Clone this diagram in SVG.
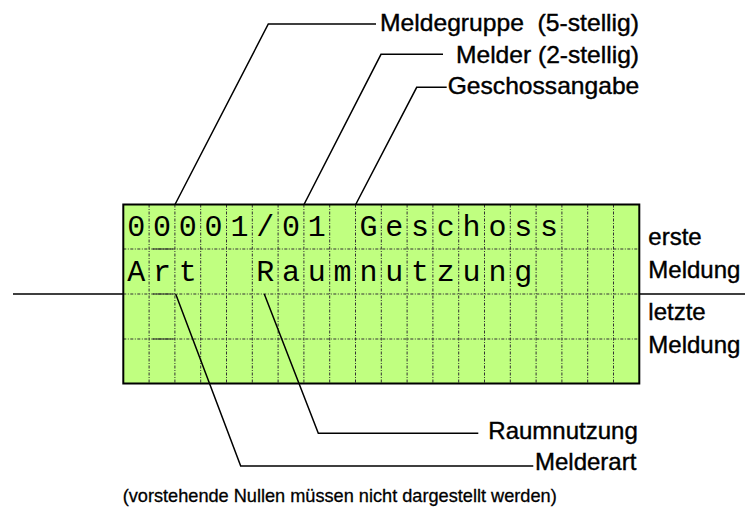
<svg xmlns="http://www.w3.org/2000/svg" width="745" height="508" viewBox="0 0 745 508">
<style>
.lbl{font-family:"Liberation Sans",Arial,sans-serif;font-size:24px;fill:#000;stroke:#000;stroke-width:0.4}
.note{font-family:"Liberation Sans",Arial,sans-serif;font-size:18.5px;fill:#000;stroke:#000;stroke-width:0.3}
.lcd{font-family:"Liberation Mono","DejaVu Sans Mono",monospace;font-size:30px;fill:#000;text-anchor:middle}
.ln{fill:none;stroke:#000;stroke-width:1.5}
.cell{fill:none;stroke:#333;stroke-width:1;stroke-dasharray:3 1.5 1 1.5}
</style>
<rect width="745" height="508" fill="#fff"/>
<g id="display">
<rect x="123.3" y="204.5" width="516" height="179" fill="#c0ff80"/>
<path class="cell" d="M149.1 204.5V383.5M174.9 204.5V383.5M200.7 204.5V383.5M226.5 204.5V383.5M252.3 204.5V383.5M278.1 204.5V383.5M303.9 204.5V383.5M329.7 204.5V383.5M355.5 204.5V383.5M381.3 204.5V383.5M407.1 204.5V383.5M432.9 204.5V383.5M458.7 204.5V383.5M484.5 204.5V383.5M510.3 204.5V383.5M536.1 204.5V383.5M561.9 204.5V383.5M587.7 204.5V383.5M613.5 204.5V383.5M123.3 249H639.3M123.3 294H639.3M123.3 339H639.3"/>
<path d="M153 249H173M153 294H173M153 339H173" stroke="#222" stroke-width="1.2"/>
<rect x="123.3" y="204.5" width="516" height="179" fill="none" stroke="#000" stroke-width="2"/>
<text class="lcd" x="136.2 162 187.8 213.6 239.4 265.2 291 316.8 368.4 394.2 420 445.8 471.6 497.4 523.2 549" y="236">00001/01Geschoss</text>
<text class="lcd" x="136.2 162 187.8 265.2 291 316.8 342.6 368.4 394.2 420 445.8 471.6 497.4 523.2" y="281">ArtRaumnutzung</text>
</g>
<g id="connectors">
<path class="ln" d="M13 294H123.3M639.3 294H745"/>
<path class="ln" d="M175 204.5L268.3 24H376"/>
<path class="ln" d="M304 204.5L381 54.3H443"/>
<path class="ln" d="M355.7 204.5L416.7 87.3H446.7"/>
<path class="ln" d="M264.3 294L318.3 433.3H478.3"/>
<path class="ln" d="M175.7 294L240.7 466H533.3"/>
</g>
<g id="label-meldegruppe"><text class="lbl" x="380" y="31" textLength="259" lengthAdjust="spacingAndGlyphs" xml:space="preserve">Meldegruppe  (5-stellig)</text></g>
<g id="label-melder"><text class="lbl" x="456" y="63.3" textLength="183" lengthAdjust="spacingAndGlyphs">Melder (2-stellig)</text></g>
<g id="label-geschoss"><text class="lbl" x="447.7" y="94" textLength="191.6" lengthAdjust="spacingAndGlyphs">Geschossangabe</text></g>
<g id="label-erste"><text class="lbl" x="648.3" y="245">erste</text><text class="lbl" x="648.3" y="278.3">Meldung</text></g>
<g id="label-letzte"><text class="lbl" x="648.3" y="320">letzte</text><text class="lbl" x="648.3" y="353.3">Meldung</text></g>
<g id="label-raumnutzung"><text class="lbl" x="488.3" y="439.3">Raumnutzung</text></g>
<g id="label-melderart"><text class="lbl" x="535" y="470">Melderart</text></g>
<g id="note"><text class="note" x="122.7" y="501.5" textLength="434" lengthAdjust="spacingAndGlyphs">(vorstehende Nullen müssen nicht dargestellt werden)</text></g>
</svg>
